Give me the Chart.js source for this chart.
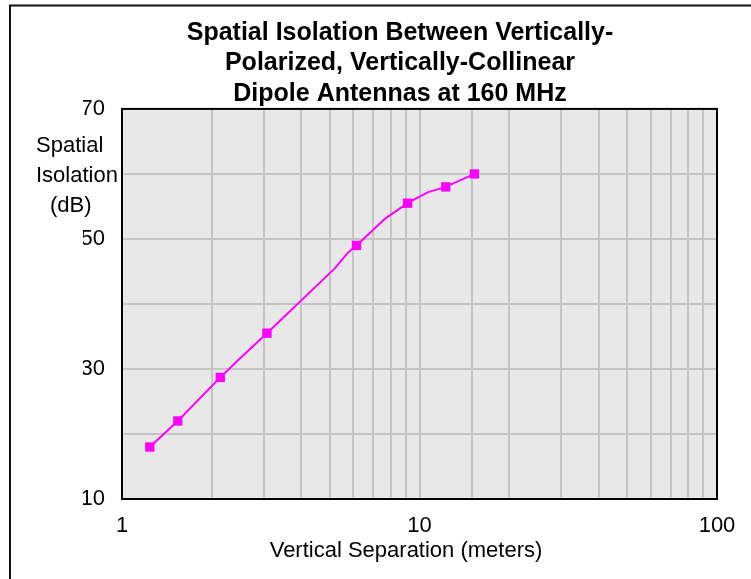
<!DOCTYPE html>
<html lang="en">

<head>
    <meta charset="utf-8">
    <title>Spatial Isolation</title>
    <script src="https://cdn.jsdelivr.net/npm/chart.js"></script>
    <style>
        html,
        body {
            margin: 0;
            padding: 0;
            background: #ffffff;
        }
        
        #chartbox {
            width: 751px;
            height: 579px;
        }
    </style>
</head>

<body>
    <div id="chartbox">
        <canvas id="isoChart"></canvas>
    </div>
    <script>
        // line drawn through these
        const curveSep = [1.24, 1.54, 2.14, 2.5, 3.07, 5.2, 5.75, 6.14, 7.7, 9.12, 10.0, 10.7, 12.25, 15.3];
        const curveDb = [18.0, 22.0, 28.7, 31.7, 35.5, 45.5, 47.9, 49.0, 53.2, 55.5, 56.5, 57.2, 58.0, 60.0];

        // square markers
        const markerSep = [1.24, 1.54, 2.14, 3.07, 6.14, 9.12, 12.25, 15.3];
        const markerDb = [18.0, 22.0, 28.7, 35.5, 49.0, 55.5, 58.0, 60.0];

        const xLabels = [1, 10, 100];
        const yLabels = [10, 30, 50, 70];

        const titleLines = ['Spatial Isolation Between Vertically-', 'Polarized, Vertically-Collinear', 'Dipole Antennas at 160 MHz'];
        const yTitleLines = ['Spatial', 'Isolation', '(dB)'];
        const xTitle = 'Vertical Separation (meters)';

        const FONT = "'Liberation Sans', Arial, sans-serif";

        const framePlugin = {
            id: 'frame',
            beforeDraw(chart) {
                const a = chart.chartArea;
                const ctx = chart.ctx;
                ctx.save();
                ctx.fillStyle = '#e8e8e8';
                ctx.fillRect(a.left, a.top, a.right - a.left, a.bottom - a.top);
                ctx.restore();
            },
            afterDatasetsDraw(chart) {
                const a = chart.chartArea;
                const ctx = chart.ctx;
                ctx.save();
                ctx.strokeStyle = '#000000';
                ctx.lineWidth = 2;
                ctx.strokeRect(a.left, a.top, a.right - a.left, a.bottom - a.top);
                ctx.restore();
            },
            afterDraw(chart) {
                const ctx = chart.ctx;
                ctx.save();
                // outer border (left and top only visible)
                ctx.strokeStyle = '#111111';
                ctx.lineWidth = 2;
                ctx.beginPath();
                ctx.moveTo(10, 600);
                ctx.lineTo(10, 5.5);
                ctx.lineTo(760, 5.5);
                ctx.stroke();

                ctx.fillStyle = '#000000';
                ctx.font = '22px ' + FONT;
                ctx.textBaseline = 'middle';
                ctx.textAlign = 'left';
                ctx.fillText(yTitleLines[0], 36, 146);
                ctx.fillText(yTitleLines[1], 36, 176);
                ctx.fillText(yTitleLines[2], 50, 206);

                ctx.textAlign = 'center';
                ctx.fillText(xTitle, 406, 551);
                ctx.restore();
            }
        };

        const ctx = document.getElementById('isoChart').getContext('2d');
        const isoChart = new Chart(ctx, {
            type: 'line',
            data: {
                datasets: [{
                    label: 'Isolation curve',
                    data: curveSep.map((x, i) => ({ x: x, y: curveDb[i] })),
                    borderColor: '#ff00ff',
                    borderWidth: 2,
                    pointRadius: 0,
                    fill: false,
                    tension: 0
                }, {
                    label: 'Measured',
                    data: markerSep.map((x, i) => ({ x: x, y: markerDb[i] })),
                    showLine: false,
                    pointStyle: 'rect',
                    pointRadius: 6.6,
                    backgroundColor: '#ff00ff',
                    borderColor: '#ff00ff',
                    borderWidth: 0
                }]
            },
            options: {
                responsive: true,
                maintainAspectRatio: false,
                animation: false,
                layout: {
                    padding: { left: 83, right: 34, top: 18, bottom: 0 }
                },
                plugins: {
                    legend: { display: false },
                    tooltip: { enabled: false },
                    title: {
                        display: true,
                        text: titleLines,
                        color: '#000000',
                        font: { family: FONT, size: 25, weight: 'bold', lineHeight: '30.3px' },
                        padding: { top: 0, bottom: 0 }
                    }
                },
                scales: {
                    x: {
                        type: 'logarithmic',
                        min: 1,
                        max: 100,
                        afterFit(scale) {
                            scale.height = 80;
                        },
                        grid: { color: '#c4c4c4', lineWidth: 2, drawTicks: false },
                        border: { display: false },
                        ticks: {
                            autoSkip: false,
                            maxRotation: 0,
                            padding: 14,
                            color: '#000000',
                            font: { family: FONT, size: 22 },
                            callback: function(value) {
                                return xLabels.includes(value) ? String(value) : '';
                            }
                        }
                    },
                    y: {
                        min: 10,
                        max: 70,
                        afterFit(scale) {
                            scale.width = 39;
                        },
                        grid: { color: '#c4c4c4', lineWidth: 2, drawTicks: false },
                        border: { display: false },
                        ticks: {
                            stepSize: 10,
                            autoSkip: false,
                            padding: 17,
                            color: '#000000',
                            font: { family: FONT, size: 22 },
                            callback: function(value) {
                                return yLabels.includes(value) ? String(value) : '';
                            }
                        }
                    }
                }
            },
            plugins: [framePlugin]
        });
    </script>
</body>

</html>
